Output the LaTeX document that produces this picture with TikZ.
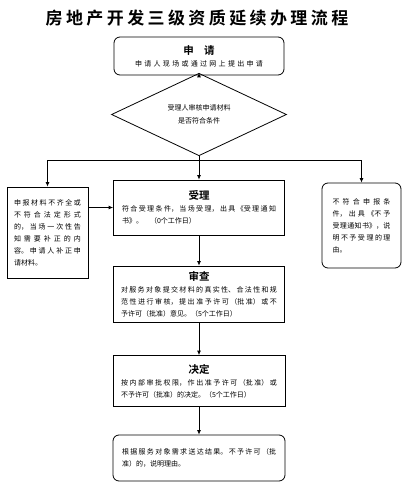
\documentclass[tikz,border=0pt]{standalone}
\usepackage{fontspec}
\setmainfont{Noto Sans CJK SC}[BoldFont={Noto Sans CJK SC Bold}]
\newfontfamily\titlefont{Noto Sans CJK SC Bold}[LetterSpace=20]
\usetikzlibrary{shapes.geometric,arrows.meta}
\XeTeXlinebreaklocale "zh"
\XeTeXlinebreakskip=0pt plus 2pt
\newcommand{\heading}[1]{\hbox to\hsize{\hss\bfseries\fontsize{10.5}{13}\selectfont #1\hss}\par}
\tikzset{
  box/.style={draw,line width=0.8pt,inner sep=0pt,align=justify,
    font=\fontsize{7}{12}\selectfont},
  rbox/.style={box,rounded corners=6pt},
  >={Latex[length=4.5pt,width=4pt]}
}
\begin{document}
\begin{tikzpicture}[x=1pt,y=-1pt,line width=0.8pt]
      \useasboundingbox (0,0) rectangle (409,490);
      \node (title) at (197,18)
        {\titlefont\fontsize{17}{20}\selectfont 房地产开发三级资质延续办理流程};
      \node[rbox,minimum width=170pt,minimum height=38pt,text width=160pt,align=center]
        (apply) at (199,56) {\heading{申\quad 请}申请人现场或通过网上提出申请};
      \node[draw,diamond,inner sep=0pt,minimum width=175pt,minimum height=57pt,
        align=center,font=\fontsize{7}{13}\selectfont]
        (check) at (199,114.5) {受理人审核申请材料\\是否符合条件};
      \node[box,minimum width=171pt,minimum height=55pt,text width=154pt]
        (accept) at (199,207.5) {\heading{受理}符合受理条件，当场受理，出具《受理通知\linebreak
        书》。\quad（0个工作日）};
      \node[box,minimum width=171pt,minimum height=56pt,text width=156pt]
        (review) at (199,294) {\heading{审查}对服务对象提交材料的真实性、合法性和规\linebreak
        范性进行审核，提出准予许可（批准）或不\linebreak 予许可（批准）意见。（5个工作日）};
      \node[box,minimum width=172pt,minimum height=51pt,text width=156pt]
        (decide) at (199,381) {\heading{决定}按内部审批权限，作出准予许可（批准）或\linebreak
        不予许可（批准）的决定。（5个工作日）};
      \node[rbox,minimum width=172pt,minimum height=46pt,text width=154pt]
        (result) at (199,458) {根据服务对象需求送达结果。不予许可（批\linebreak 准）的，说明理由。};
      \node[box,minimum width=81pt,minimum height=91pt,text width=67pt]
        (supply) at (47.5,232.5) {申报材料不齐全或\linebreak 不符合法定形式\linebreak
        的，当场一次性告\linebreak 知需要补正的内\linebreak 容。申请人补正申\linebreak 请材料。};
      \node[rbox,minimum width=79pt,minimum height=85pt,text width=58pt]
        (refuse) at (361.5,225.5) {不符合申报条\linebreak 件，出具《不予\linebreak
        受理通知书》，说\linebreak 明不予受理的理\linebreak 由。};
      \coordinate (split) at (199,160);
      \draw (check.south) -- (split);
      \begin{scope}[->]
        \draw (apply) -- (check);
        \draw (split) -- (accept);
        \draw (split) -| (supply);
        \draw (split) -| (refuse);
        \draw (supply.east |- accept.west) -- (accept.west);
        \draw (accept) -- (review);
        \draw (review) -- (decide);
        \draw (decide) -- (result);
      \end{scope}
    \end{tikzpicture}
\end{document}
